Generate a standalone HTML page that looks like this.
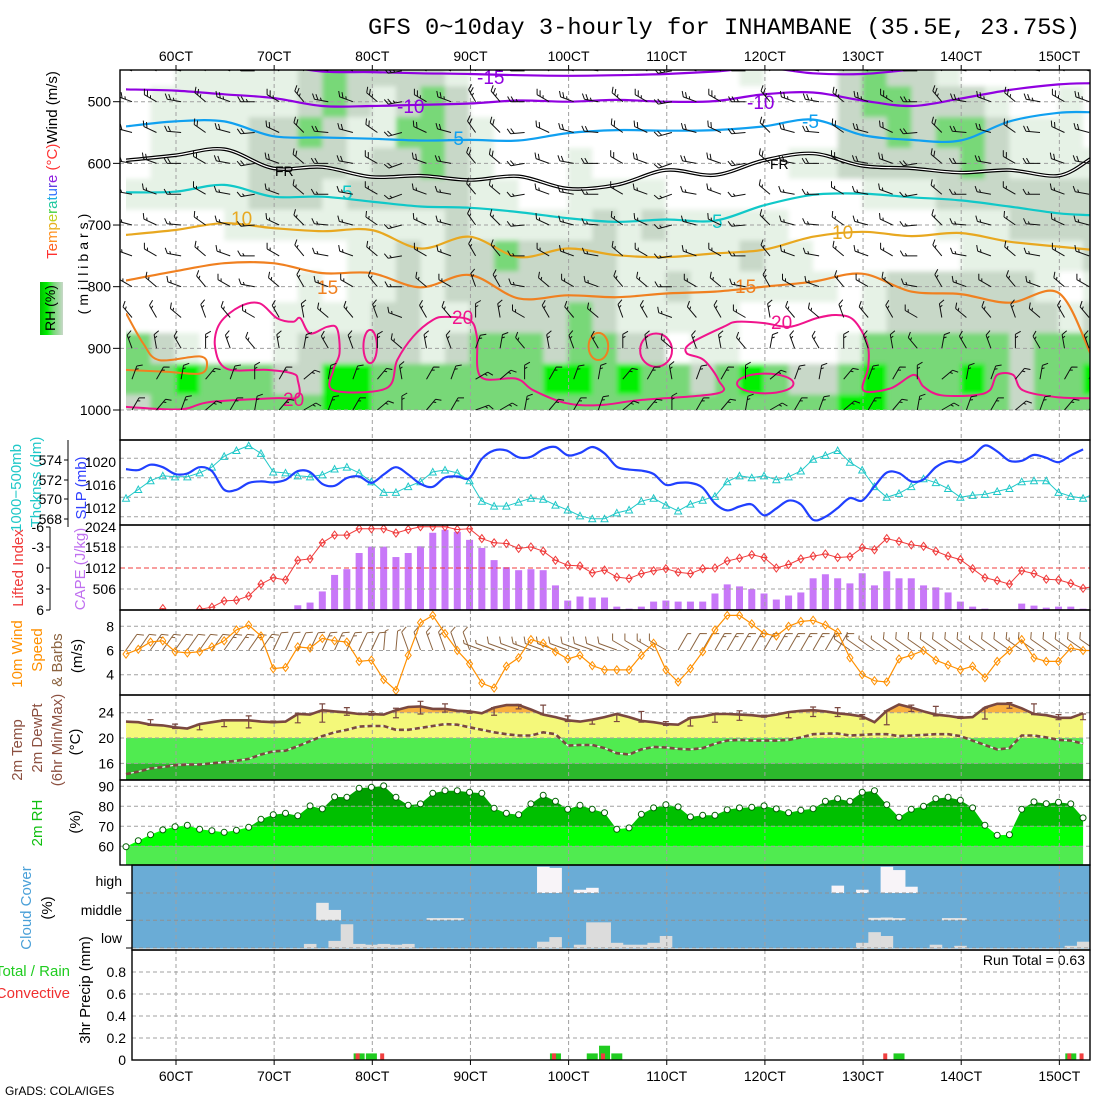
<!DOCTYPE html>
<html><head><meta charset="utf-8"><title>GFS meteogram INHAMBANE</title>
<style>
html,body{margin:0;padding:0;background:#fff;}
svg{display:block;font-family:"Liberation Sans",sans-serif;}
</style></head><body>
<svg id="chart" width="1100" height="1100" viewBox="0 0 1100 1100" xmlns="http://www.w3.org/2000/svg">
<defs>
<clipPath id="c1"><rect x="120" y="70" width="970" height="370"/></clipPath>
<clipPath id="c1f"><rect x="126" y="70" width="964" height="340"/></clipPath>
<clipPath id="c2"><rect x="120" y="440" width="970" height="85"/></clipPath>
<clipPath id="c3"><rect x="120" y="525" width="970" height="85"/></clipPath>
<clipPath id="c4"><rect x="120" y="610" width="970" height="85"/></clipPath>
<clipPath id="c5"><rect x="120" y="695" width="970" height="85"/></clipPath>
<clipPath id="c6"><rect x="120" y="780" width="970" height="85"/></clipPath>
<clipPath id="c7"><rect x="132" y="865" width="958" height="85"/></clipPath>
<clipPath id="c8"><rect x="132" y="950" width="958" height="110"/></clipPath>
<filter id="blur" x="-5%" y="-5%" width="110%" height="110%"><feGaussianBlur stdDeviation="2.5"/></filter>
<linearGradient id="rhleg" x1="0" x2="1" y1="0" y2="0">
<stop offset="0" stop-color="#00c000"/><stop offset="0.3" stop-color="#00f000"/><stop offset="0.6" stop-color="#78d878"/><stop offset="1" stop-color="#c8d8c8"/>
</linearGradient>
</defs>
<text x="368" y="34" font-family="Liberation Mono, monospace" font-size="23" textLength="712" lengthAdjust="spacingAndGlyphs" fill="#000">GFS 0~10day 3-hourly for INHAMBANE (35.5E, 23.75S)</text>
<text x="5" y="1095" font-size="12" fill="#000">GrADS: COLA/IGES</text>

<text transform="rotate(-90 57 165)" x="57" y="165" text-anchor="middle" font-size="15"><tspan fill="#ff3030">T</tspan><tspan fill="#ff6020">e</tspan><tspan fill="#ff9020">m</tspan><tspan fill="#e8b020">p</tspan><tspan fill="#c0d020">e</tspan><tspan fill="#40d040">r</tspan><tspan fill="#20c8a0">a</tspan><tspan fill="#20b0e0">t</tspan><tspan fill="#3070ff">u</tspan><tspan fill="#6040e0">r</tspan><tspan fill="#9020e0">e</tspan><tspan fill="#ff3030"> (°C)</tspan><tspan fill="#000">Wind (m/s)</tspan></text>
<rect x="40" y="282" width="23" height="53" fill="url(#rhleg)"/>
<text transform="rotate(-90 55 308)" x="55" y="308" text-anchor="middle" font-size="14" fill="#000">RH (%)</text>
<text transform="rotate(-90 88 262)" x="88" y="262" text-anchor="middle" font-size="14" letter-spacing="4" fill="#000">(millibars)</text>

<text transform="rotate(-90 21 488)" x="21" y="488" text-anchor="middle" font-size="15" fill="#20c8c8">1000−500mb</text>
<text transform="rotate(-90 41 482)" x="41" y="482" text-anchor="middle" font-size="15" fill="#20c8c8">Thcknss (dm)</text>
<text transform="rotate(-90 86 488)" x="86" y="488" text-anchor="middle" font-size="15" fill="#3040ff">SLP (mb)</text>
<text transform="rotate(-90 23 568)" x="23" y="568" text-anchor="middle" font-size="15" fill="#f03c3c">Lifted Index</text>
<text transform="rotate(-90 85 569)" x="85" y="569" text-anchor="middle" font-size="15" fill="#c070f0">CAPE (J/kg)</text>
<text transform="rotate(-90 22 654)" x="22" y="654" text-anchor="middle" font-size="15" fill="#ff9000">10m Wind</text>
<text transform="rotate(-90 42 650)" x="42" y="650" text-anchor="middle" font-size="15" fill="#ff9000">Speed</text>
<text transform="rotate(-90 62 660)" x="62" y="660" text-anchor="middle" font-size="15" fill="#8c6440">&amp; Barbs</text>
<text transform="rotate(-90 82 656)" x="82" y="656" text-anchor="middle" font-size="15" fill="#000">(m/s)</text>
<text transform="rotate(-90 22 750)" x="22" y="750" text-anchor="middle" font-size="15" fill="#8c5040">2m Temp</text>
<text transform="rotate(-90 42 738)" x="42" y="738" text-anchor="middle" font-size="15" fill="#8c5040">2m DewPt</text>
<text transform="rotate(-90 62 740)" x="62" y="740" text-anchor="middle" font-size="15" fill="#8c5040">(6hr Min/Max)</text>
<text transform="rotate(-90 80 742)" x="80" y="742" text-anchor="middle" font-size="15" fill="#000">(°C)</text>
<text transform="rotate(-90 42 823)" x="42" y="823" text-anchor="middle" font-size="15" fill="#10c010">2m RH</text>
<text transform="rotate(-90 80 822)" x="80" y="822" text-anchor="middle" font-size="15" fill="#000">(%)</text>
<text transform="rotate(-90 31 908)" x="31" y="908" text-anchor="middle" font-size="15" fill="#4aa0d8">Cloud Cover</text>
<text transform="rotate(-90 52 908)" x="52" y="908" text-anchor="middle" font-size="15" fill="#000">(%)</text>
<text transform="rotate(-90 90 990)" x="90" y="990" text-anchor="middle" font-size="15" fill="#000">3hr Precip (mm)</text>
<text x="70" y="976" text-anchor="end" font-size="15" fill="#20cc20">Total / Rain</text>
<text x="70" y="998" text-anchor="end" font-size="15" fill="#f03030">Convective</text>
<text x="1085" y="965" text-anchor="end" font-size="14" fill="#000">Run Total = 0.63</text>
<text x="122" y="886" text-anchor="end" font-size="14" fill="#000">high</text>
<text x="122" y="915" text-anchor="end" font-size="14" fill="#000">middle</text>
<text x="122" y="943" text-anchor="end" font-size="14" fill="#000">low</text>
</svg>
<script>
const hourTicks = [60,70,80,90,100,110,120,130,140,150];
const tickLabels = ['60CT','70CT','80CT','90CT','100CT','110CT','120CT','130CT','140CT','150CT'];

const thick = [569.9,570.8,571.7,572.2,572.1,572.1,572.5,573.1,574.2,574.8,575.3,574.5,572.6,572.5,572.2,572.1,572.3,572.9,573.1,572.5,571.6,570.5,570.5,571.1,571.6,572.6,572.8,572.5,571.7,569.6,569.1,569.1,569.5,569.9,569.8,569.2,568.7,568.1,567.8,567.8,568.4,568.7,569.6,569.9,569.2,568.6,569.3,569.7,570.1,571.6,572.2,572.0,572.2,571.8,572.1,572.7,573.9,574.3,574.8,573.6,572.8,571.1,570.0,570.4,571.1,571.9,571.5,570.9,570.0,570.2,570.3,570.6,570.9,571.6,571.7,571.7,570.5,570.1,569.9,570.4];
const slp = [1017.8,1017.6,1018.7,1018.2,1016.8,1016.9,1018.2,1017.4,1013.6,1013.6,1015.0,1015.3,1015.1,1015.6,1017.4,1017.2,1014.8,1014.4,1016.0,1016.3,1015.0,1016.7,1018.2,1016.7,1014.8,1014.2,1016.1,1016.3,1016.0,1019.9,1021.6,1021.6,1020.2,1020.3,1021.8,1022.3,1020.6,1021.1,1022.3,1021.0,1018.3,1017.7,1017.5,1016.8,1014.6,1015.0,1015.0,1014.0,1010.8,1009.4,1010.2,1010.6,1008.4,1009.8,1011.4,1010.6,1007.5,1008.1,1009.9,1011.9,1011.4,1014.3,1017.1,1017.0,1015.3,1015.7,1018.2,1019.4,1019.2,1020.4,1022.6,1021.4,1019.5,1019.5,1020.7,1020.1,1019.2,1020.6,1021.8];
const cape = [0,0,0,0,0,0,0,0,0,0,0,0,0,0,112,177,442,835,972,1357,1510,1510,1261,1357,1518,1839,1911,1863,1670,1478,1188,1020,948,972,948,586,225,321,297,297,80,32,80,200,225,200,200,200,393,610,562,498,393,249,345,418,755,851,755,634,875,586,923,755,755,586,538,418,200,80,32,0,0,152,104,56,80,80,32];
const liftedIndex = [8,8,8,5.8,8,8,5.9,5.6,4.7,4.6,4.0,2.3,1.4,1.7,-1.1,-1.3,-3.6,-4.7,-4.7,-5.6,-5.6,-5.6,-5.0,-5.5,-5.9,-5.9,-5.9,-5.5,-5.6,-4.2,-3.6,-3.5,-2.8,-3.0,-2.4,-1.1,-0.4,-0.3,0.7,0.3,1.3,1.5,0.8,0.4,0.1,0.6,0.8,0.1,0,-1.0,-1.4,-1.9,-1.5,0,-0.5,-1.3,-1.7,-2.0,-1.5,-1.6,-2.9,-2.6,-4.2,-3.8,-3.3,-3.1,-2.4,-1.7,-1.2,0.1,1.4,1.8,2.3,0.4,0.8,1.6,1.7,2.2,2.9,2.6];
const windSpeed = [5.7,6.1,6.7,6.8,5.9,5.8,5.9,6.3,6.8,7.7,8.1,7.2,4.5,4.6,6.3,6.2,7.0,6.8,6.7,5.1,5.2,3.6,2.7,5.6,8.3,8.9,7.4,6.0,4.9,3.3,2.9,4.7,5.4,6.9,6.6,5.9,5.3,5.6,4.75,4.4,4.4,4.4,5.6,6.6,4.4,3.4,4.5,5.9,7.7,8.9,8.9,8.2,7.4,7.2,8.0,8.4,8.5,8.1,7.5,5.4,4.0,3.5,3.4,5.3,5.6,6.0,5.2,4.8,4.4,4.7,3.75,5.1,6.0,6.9,5.4,5.1,5.1,6.2,6.0,6.0];
const windDir = [35,35,35,35,35,35,35,35,35,35,35,35,25,25,25,25,25,25,25,25,25,5,5,340,340,340,340,340,340,290,290,290,290,290,290,290,290,290,290,290,290,300,300,300,300,30,30,30,30,30,30,30,30,30,30,30,30,30,30,305,305,305,305,305,305,305,305,305,305,305,305,305,305,305,305,305,305,305,305,305];
const temp2m = [22.6,22.5,22.1,22.0,21.7,21.5,22.2,22.5,22.8,22.8,22.8,22.6,22.5,22.6,23.8,23.7,24.4,24.2,24.05,23.8,23.8,23.7,24.4,24.9,25.0,24.6,24.6,24.3,24.2,23.9,24.8,25.2,25.2,24.5,23.7,23.3,22.8,22.6,22.9,23.3,23.8,23.3,22.7,22.5,22.2,22.1,23.2,23.4,23.8,23.8,23.7,23.6,23.4,23.7,24.1,24.3,24.4,24.2,23.9,23.7,23.4,22.5,24.3,25.3,24.8,24.2,23.7,23.5,23.2,23.3,24.8,25.4,25.4,24.7,23.8,23.6,23.2,23.2,23.9];
const dewpt2m = [14.3,14.7,15.2,15.4,15.7,15.8,15.8,16.0,16.2,16.4,16.7,17.4,17.9,18.0,18.7,19.5,20.3,20.9,21.3,21.8,21.9,21.9,21.3,21.3,21.6,21.9,22.2,22.1,21.7,21.3,20.9,20.6,20.4,20.4,20.9,20.6,18.8,18.9,18.9,18.4,17.6,17.4,18.2,18.6,18.5,18.3,18.2,18.4,19.1,19.6,19.7,19.6,19.6,19.6,19.7,20.1,20.6,20.7,20.7,20.4,20.5,20.6,20.6,20.3,20.4,20.5,20.6,20.6,20.3,19.6,18.9,18.2,18.4,20.4,20.4,20.1,19.7,19.6,19.1];
const tmax6 = [22.9,22.2,22.2,22.9,23.5,22.7,23.9,25.4,24.8,24.2,24.7,25.8,25.4,24.2,24.8,25.3,25.2,23.5,22.9,23.8,24.2,22.6,23.2,23.9,24.3,23.6,24.1,24.9,24.8,23.7,24.3,25.2,25.0,23.4,24.7,25.6,25.4,23.7,23.8];
const tmin6 = [22.0,21.5,21.3,21.8,21.6,22.4,22.4,22.5,23.6,23.6,23.2,23.8,24.1,23.9,23.6,24.6,23.7,22.6,22.2,22.6,22.5,22.0,21.9,22.5,22.8,23.3,23.2,23.4,23.4,23.0,22.1,24.2,23.5,23.1,23.0,24.7,23.7,22.9,22.9];
const rh2m = [59.8,62.8,65.8,68.2,69.8,70.5,68.5,67.8,67,68,69.5,73.5,75.8,76.5,75.3,80.2,78.7,84.7,84.5,89,89.5,90.2,84.5,80.5,81.2,86.5,87.8,87.8,87,86.5,79,76.5,75.8,81.2,85.5,82.5,78.5,80.5,78.5,76.8,68.5,69.2,76,79.2,80.8,79.7,74.7,75.5,75.5,78.3,79.2,79.5,80.2,78.7,76.8,78,78.8,82.5,83.8,82.5,87,87.8,80.8,74.5,78.5,80,83.8,84.5,83,79.2,70.5,65.5,65.8,78.5,82.2,81.3,82,81.2,74.2];
const cloudHigh = [0,0,0,0,0,0,0,0,0,0,0,0,0,0,0,0,0,0,0,0,0,0,0,0,0,0,0,0,0,0,0,0,0,0,96,92,0,12,19,0,0,0,0,0,0,0,0,0,0,0,0,0,0,0,0,0,0,0,27,0,12,0,96,84,23,0,0,0,0,0,0,0,0,0,0,0,0,0,0];
const cloudMid = [0,0,0,0,0,0,0,0,0,0,0,0,0,0,0,0,64,38,0,0,0,0,0,0,0,8,8,8,0,0,0,0,0,0,0,0,0,0,0,0,0,0,0,0,0,0,0,0,0,0,0,0,0,0,0,0,0,0,0,0,0,9,10,8,0,0,0,8,8,0,0,0,0,0,0,0,0,0,0];
const cloudLow = [0,0,0,0,0,0,0,0,0,0,0,0,0,0,0,15,0,26,87,15,12,15,12,15,0,0,0,0,0,0,0,0,0,0,23,40,0,12,94,94,19,12,12,19,44,0,0,0,0,0,0,0,0,0,0,0,0,0,0,0,19,58,44,0,0,0,12,0,8,0,0,0,0,0,0,0,0,8,23];
const precipTotal = [0,0,0,0,0,0,0,0,0,0,0,0,0,0,0,0,0,0,0,0.06,0.06,0,0,0,0,0,0,0,0,0,0,0,0,0,0,0.06,0,0,0.06,0.13,0.06,0,0,0,0,0,0,0,0,0,0,0,0,0,0,0,0,0,0,0,0,0,0,0.06,0,0,0,0,0,0,0,0,0,0,0,0,0,0.06,0];
const precipConv = [0,0,0,0,0,0,0,0,0,0,0,0,0,0,0,0,0,0,0,0.06,0,0.06,0,0,0,0,0,0,0,0,0,0,0,0,0,0.06,0,0,0,0.06,0,0,0,0,0,0,0,0,0,0,0,0,0,0,0,0,0,0,0,0,0,0,0.06,0,0,0,0,0,0,0,0,0,0,0,0,0,0,0.06,0.06];

const rhLevels = [450,500,550,600,650,700,750,800,850,900,950,1000];
const rhRows = [
"0011111232222100000000000100023221000000",
"0111111232123200000000000000023322210010",
"0111122321133210000000000000022323321110",
"0111122221223210001000000001122222321111",
"1111122212222211001111000000001112222222",
"0000111111111211111212111110000001112222",
"0000000001121223222211111211000000111112",
"0000000101121222222211211111101222222101",
"0000001111221122223211111000001222222212",
"3210001222221233323322011000013333332333",
"3343332244333333344343323432234333432334",
"2333333344333333333333333333344333332333"];
const isoIdx = [0,4,8,12,16,20,24,28,32,36,40,44,48,52,56,60,64,68,72,76,78.6];
const isoM15 = [440,440,440,440,451,452,454,455,457,458,457,455,451,445,454,455,448,440,440,440,440];
const isoM10 = [480,482,488,494,507,507,505,503,498,500,497,500,499,488,485,498,507,495,481,472,470];
const isoM5 = [540,532,532,556,558,560,563,562,563,551,546,547,546,540,529,554,562,563,532,518,517];
const isoFR = [595,587,577,608,606,622,620,627,621,641,635,611,619,595,584,604,608,615,611,620,593];
const iso5 = [647,646,635,654,654,662,670,672,679,689,695,691,693,668,651,649,655,660,670,681,684];
const iso10 = [716,708,697,705,710,708,738,719,752,738,749,752,746,740,719,711,718,713,727,735,740];
const iso15 = [790,775,762,762,778,778,801,781,819,814,817,811,808,800,792,779,808,812,826,810,908];
const iso15b = [[0,843],[1.4,892],[2.7,919],[6.0,913],[6.6,927],[6.0,941],[3.3,938],[0,935]];
const iso20 = [[0,995],[4.4,999],[6.85,987],[12.0,981],[14.0,979],[14.0,952],[13.6,941],[11.5,935],[8.2,933],[7.25,897],[7.66,859],[9.3,832],[10.9,827],[12.3,851],[13.6,857],[14.2,851],[15.0,876],[16.4,865],[17.2,868],[17.4,908],[16.9,935],[16.9,968],[21.2,965],[22.1,919],[23.4,881],[25.0,854],[26.1,849],[28.0,854],[28.6,881],[28.9,946],[31.8,949],[33.2,968],[35.9,989],[38.6,992],[41.9,984],[48.2,973],[48.3,952],[47.1,919],[45.7,908],[46.0,892],[48.7,865],[49.8,857],[52.0,859],[54.1,865],[56.3,851],[57.9,846],[59.3,854],[60.4,892],[60.5,930],[60.1,968],[62.3,965],[64.2,943],[65.0,962],[66.4,976],[69.1,976],[70.4,968],[71.0,943],[72.3,943],[73.1,968],[75.8,979],[78.6,981]];
const iso20Loops = [[19.9,897,0.55,27],[43.2,903,1.3,27],[52.1,957,2.3,16]];
const iso15Loops = [[38.5,897,0.8,22]];
const barbLevels = [450,500,550,600,650,700,750,800,850,900,950,1000];
const barbDirLevel = [290,290,285,280,280,285,290,300,320,340,20,30];
const barbSpdLevel = [25,25,20,20,15,15,15,15,15,15,15,15];
const barbColAdj = [0,10,-10,20,0,-20,10,30,-10,0,20,-30,10,0,40,30,-20,10,0,-10,20,10,-30,0,10,-20,30,0,-10,20,0,10,-20,30,-10,0,20,-10,10,0];

const NS='http://www.w3.org/2000/svg';
const svg=document.getElementById('chart');
function mk(t,a,p){const e=document.createElementNS(NS,t);for(const k in a)e.setAttribute(k,a[k]);(p||svg).appendChild(e);return e;}
function nm(e,n){
  
  
  return e;
}
function grp(n,clip){const g=mk('g',clip?{'clip-path':'url(#'+clip+')'}:{});nm(g,n);return g;}
const X0=126, DX=12.27;
function xi(i){return X0+i*DX;}
function xh(h){return 176+(h-60)*9.815;}
function yP(p){return 101.7+(p-500)*0.6166;}
function yTh(v){return 458.3+(574-v)*9.75;}
function ySlp(v){return 458.3+(1020-v)*4.917;}
function yCape(v){return 610-v*85/2024;}
function yLi(v){return 568+v*7;}
function yWs(v){return 626.3+(8-v)*12.1;}
function yT(v){return 712.7+(24-v)*6.33;}
function yRh(v){return 786.3+(90-v)*2.0;}
function yPr(v){return 1060-v*110;}
function pl(pts){return pts.map((p,k)=>(k?'L':'M')+p[0].toFixed(1)+' '+p[1].toFixed(1)).join('');}
function smooth(pts){
  let d='M'+pts[0][0].toFixed(1)+' '+pts[0][1].toFixed(1);
  for(let i=0;i<pts.length-1;i++){
    const p0=pts[i-1]||pts[i],p1=pts[i],p2=pts[i+1],p3=pts[i+2]||p2;
    const c1x=p1[0]+(p2[0]-p0[0])/6,c1y=p1[1]+(p2[1]-p0[1])/6,c2x=p2[0]-(p3[0]-p1[0])/6,c2y=p2[1]-(p3[1]-p1[1])/6;
    d+='C'+c1x.toFixed(1)+' '+c1y.toFixed(1)+' '+c2x.toFixed(1)+' '+c2y.toFixed(1)+' '+p2[0].toFixed(1)+' '+p2[1].toFixed(1);
  }
  return d;
}
function txt(x,y,s,a,p){const e=mk('text',Object.assign({x:x,y:y},a||{}),p);e.textContent=s;return e;}
function hgrid(g,y,x1,col,dash){const e=mk('line',{x1:x1,x2:1090,y1:y,y2:y,stroke:col||'#a0a0a0','stroke-width':1,'stroke-dasharray':dash||'4,3'},g);return e;}
function barb(g,x,y,dir,kt,L,col,fl){
  const r=dir*Math.PI/180,ux=Math.sin(r),uy=-Math.cos(r);
  const tx=x+ux*L,ty=y+uy*L,px=-uy,py=ux;
  let d='M'+x.toFixed(1)+' '+y.toFixed(1)+'L'+tx.toFixed(1)+' '+ty.toFixed(1);
  let full=Math.floor(kt/10),half=Math.round((kt-full*10)/5);
  if(half>=2){full++;half=0;}
  let pos=0;
  for(let k=0;k<full;k++){const sx=tx-ux*pos*3.5,sy=ty-uy*pos*3.5;d+='M'+sx.toFixed(1)+' '+sy.toFixed(1)+'L'+(sx+(px*0.87+ux*0.5)*fl).toFixed(1)+' '+(sy+(py*0.87+uy*0.5)*fl).toFixed(1);pos++;}
  if(half){const sx=tx-ux*pos*3.5,sy=ty-uy*pos*3.5;d+='M'+sx.toFixed(1)+' '+sy.toFixed(1)+'L'+(sx+(px*0.87+ux*0.5)*fl*0.5).toFixed(1)+' '+(sy+(py*0.87+uy*0.5)*fl*0.5).toFixed(1);}
  return mk('path',{d:d,stroke:col,'stroke-width':1,fill:'none'},g);
}
function vgrid(g,y1,y2){hourTicks.forEach(h=>{const e=mk('line',{x1:xh(h),x2:xh(h),y1:y1,y2:y2,stroke:'#a0a0a0','stroke-width':1,'stroke-dasharray':'4,3'},g);nm(e,'vertical-gridline');});}

const rhColors=['#ffffff','#e6f2e6','#c8d8c8','#78d878','#00f000'];
const g1f=grp('upper-rh-shading','c1f');
const g1b=mk('g',{filter:'url(#blur)'},g1f);nm(g1b,'rh-shading-blur');
rhRows.forEach((row,r)=>{
  const p=rhLevels[r];
  let yt=yP(p-25),yb=yP(p+25);
  if(r===0)yt-=25; if(r===rhRows.length-1)yb+=25;
  for(let c=0;c<row.length;c++){
    const v=parseInt(row.charAt(c))||0;
    let x1=xi(2*c),x2=xi(2*c+2);
    if(c===0)x1-=25; if(c===row.length-1)x2+=25;
    const e=mk('rect',{x:x1.toFixed(1),y:yt.toFixed(1),width:(x2-x1+0.6).toFixed(1),height:(yb-yt+0.6).toFixed(1),fill:rhColors[v]},g1b);
    nm(e,'rh-cell');
  }
});
const g1g=grp('upper-grid','c1');
vgrid(g1g,70,440);
[500,600,700,800,900,1000].forEach(p=>{const e=hgrid(g1g,yP(p),120);nm(e,'pressure-gridline');});
const g1l=grp('isotherms','c1f');
function isoLine(vals,col,w,n){const pts=vals.map((p,k)=>[xi(isoIdx[k]),yP(p)]);const e=mk('path',{d:smooth(pts),stroke:col,'stroke-width':w,fill:'none'},g1l);nm(e,n);return pts;}
isoLine(isoM15,'#9000e0',2.2,'isotherm-minus15');
isoLine(isoM10,'#9000e0',2.2,'isotherm-minus10');
isoLine(isoM5,'#10a0f0',2.2,'isotherm-minus5');
const frPts=isoFR.map((p,k)=>[xi(isoIdx[k]),yP(p)]);
let fr1=mk('path',{d:smooth(frPts),stroke:'#000','stroke-width':3.6,fill:'none'},g1l);nm(fr1,'freezing-level-outer');
let fr2=mk('path',{d:smooth(frPts),stroke:'#fff','stroke-width':1.2,fill:'none'},g1l);nm(fr2,'freezing-level-inner');
isoLine(iso5,'#10c8c8',2.2,'isotherm-5');
isoLine(iso10,'#e8a820',2.2,'isotherm-10');
isoLine(iso15,'#f08020',2.2,'isotherm-15');
let i15b=mk('path',{d:smooth(iso15b.map(q=>[xi(q[0]),yP(q[1])])),stroke:'#f08020','stroke-width':2,fill:'none'},g1l);nm(i15b,'isotherm-15-loop');
iso15Loops.forEach(q=>{const e=mk('ellipse',{cx:xi(q[0]),cy:yP(q[1]),rx:q[2]*DX,ry:q[3]*0.6166,stroke:'#f08020','stroke-width':2,fill:'none'},g1l);nm(e,'isotherm-15-loop');});
let i20=mk('path',{d:smooth(iso20.map(q=>[xi(q[0]),yP(q[1])])),stroke:'#f0148c','stroke-width':2,fill:'none'},g1l);nm(i20,'isotherm-20');
iso20Loops.forEach(q=>{const e=mk('ellipse',{cx:xi(q[0]),cy:yP(q[1]),rx:q[2]*DX,ry:q[3]*0.6166,stroke:'#f0148c','stroke-width':2,fill:'none'},g1l);nm(e,'isotherm-20-loop');});
const isoLabels=[['-15',477,84,'#9000e0'],['-10',397,113,'#9000e0'],['-5',447,145,'#10a0f0'],['FR',275,176,'#000'],['5',342,199,'#10c8c8'],['10',231,225,'#e8a820'],['15',317,294,'#f08020'],['20',283,406,'#f0148c'],['20',452,324,'#f0148c'],['-10',747,109,'#9000e0'],['-5',802,128,'#10a0f0'],['FR',770,169,'#000'],['5',712,228,'#10c8c8'],['10',832,239,'#e8a820'],['15',735,293,'#f08020'],['20',771,329,'#f0148c']];
isoLabels.forEach(l=>{const e=txt(l[1],l[2],l[0],{fill:l[3],'font-size':l[0]==='FR'?14:19},g1l);nm(e,'isotherm-label');});
const g1w=grp('upper-wind-barbs','c1');
barbLevels.forEach((p,r)=>{
  for(let c=0;c<40;c++){
    const e=barb(g1w,xi(2*c)+6,yP(p),barbDirLevel[r]+barbColAdj[c],barbSpdLevel[r],14,'#101010',6);
    nm(e,'upper-wind-barb');
  }
});
const g1a=grp('pressure-axis');
[500,600,700,800,900,1000].forEach(p=>{const t=txt(111,yP(p)+5,String(p),{'text-anchor':'end','font-size':14},g1a);nm(t,'pressure-tick-label');const k=mk('line',{x1:113,x2:120,y1:yP(p),y2:yP(p),stroke:'#000'},g1a);nm(k,'pressure-tick');});

const g2=grp('slp-thickness-panel','c2');
vgrid(g2,440,525);
[574,572,570,568].forEach(v=>{const e=hgrid(g2,yTh(v),120);nm(e,'thickness-gridline');});
let thp=mk('path',{d:pl(thick.map((v,i)=>[xi(i),yTh(v)])),stroke:'#20c8c8','stroke-width':1,fill:'none'},g2);nm(thp,'thickness-line');
thick.forEach((v,i)=>{const x=xi(i),y=yTh(v);const e=mk('path',{d:`M${x-3.5} ${y+3}L${x+3.5} ${y+3}L${x} ${y-3.5}Z`,stroke:'#20c8c8','stroke-width':1,fill:'none'},g2);nm(e,'thickness-marker');});
let slpP=mk('path',{d:smooth(slp.map((v,i)=>[xi(i),ySlp(v)])),stroke:'#2040ff','stroke-width':2.2,fill:'none'},g2);nm(slpP,'slp-line');
const g2a=grp('slp-axes');
[[574,460],[572,480],[570,499],[568,519]].forEach(q=>{const t=txt(62,q[1]+5,String(q[0]),{'text-anchor':'end','font-size':14},g2a);nm(t,'thickness-tick-label');const k=mk('line',{x1:64,x2:68,y1:q[1],y2:q[1],stroke:'#000'},g2a);nm(k,'thickness-tick');});
let ax2=mk('line',{x1:68,x2:68,y1:440,y2:527,stroke:'#000'},g2a);nm(ax2,'thickness-axis');
[['1020',462],['1016',485],['1012',508]].forEach(q=>{const t=txt(116,q[1]+5,q[0],{'text-anchor':'end','font-size':14},g2a);nm(t,'slp-tick-label');});

const g3=grp('cape-li-panel','c3');
cape.forEach((v,i)=>{if(v<=0)return;const y=yCape(v);const e=mk('rect',{x:xi(i)-3.5,y:y,width:7,height:610-y,fill:'#c878f8'},g3);nm(e,'cape-bar');});
vgrid(g3,525,610);
[-3,3].forEach(v=>{const e=hgrid(g3,yLi(v),120);nm(e,'li-gridline');});
let zl=hgrid(g3,yLi(0),120,'#f03c3c','5,3');nm(zl,'li-zero-line');
let lip=mk('path',{d:pl(liftedIndex.map((v,i)=>[xi(i),yLi(v)])),stroke:'#f03c3c','stroke-width':1,fill:'none'},g3);nm(lip,'lifted-index-line');
liftedIndex.forEach((v,i)=>{const x=xi(i),y=yLi(v);const e=mk('path',{d:`M${x} ${y-4}L${x+3} ${y}L${x} ${y+4}L${x-3} ${y}Z M${x-3} ${y}L${x+3} ${y}`,stroke:'#f03c3c','stroke-width':1,fill:'none'},g3);nm(e,'li-marker');});
const g3a=grp('cape-li-axes');
[['-6',527],['-3',547],['0',568],['3',589],['6',610]].forEach(q=>{const t=txt(44,q[1]+5,q[0],{'text-anchor':'end','font-size':14},g3a);nm(t,'li-tick-label');const k=mk('line',{x1:46,x2:50,y1:q[1],y2:q[1],stroke:'#000'},g3a);nm(k,'li-tick');});
let ax3=mk('line',{x1:50,x2:50,y1:527,y2:610,stroke:'#000'},g3a);nm(ax3,'li-axis');
[['2024',527],['1518',547],['1012',568],['506',589]].forEach(q=>{const t=txt(116,q[1]+5,q[0],{'text-anchor':'end','font-size':14},g3a);nm(t,'cape-tick-label');});

const g4=grp('wind10m-panel','c4');
vgrid(g4,610,695);
[8,6,4].forEach(v=>{const e=hgrid(g4,yWs(v),120);nm(e,'wind-gridline');});
windSpeed.forEach((v,i)=>{const e=barb(g4,xi(i),650,windDir[i],v*1.944,19,'#8c6440',7);nm(e,'wind10m-barb');});
let wsp=mk('path',{d:pl(windSpeed.map((v,i)=>[xi(i),yWs(v)])),stroke:'#ff9000','stroke-width':1.2,fill:'none'},g4);nm(wsp,'wind-speed-line');
windSpeed.forEach((v,i)=>{const x=xi(i),y=yWs(v);const e=mk('path',{d:`M${x} ${y-4}L${x+3} ${y}L${x} ${y+4}L${x-3} ${y}Z`,stroke:'#ff9000','stroke-width':1,fill:'none'},g4);nm(e,'wind-speed-marker');});
const g4a=grp('wind-axis');
[8,6,4].forEach(v=>{const t=txt(114,yWs(v)+5,String(v),{'text-anchor':'end','font-size':14},g4a);nm(t,'wind-tick-label');});

const defs=svg.querySelector('defs');
const tcp=mk('clipPath',{id:'tclip'},defs);
const tpoly=[[xi(0),780]].concat(temp2m.map((v,i)=>[xi(i),yT(v)])).concat([[xi(temp2m.length-1),780]]);
let tcpp=mk('path',{d:pl(tpoly)+'Z'},tcp);nm(tcpp,'temp-clip-shape');
const g5=grp('temp-panel','c5');
const g5f=mk('g',{'clip-path':'url(#tclip)'},g5);nm(g5f,'temp-fill');
[[30,24,'#f8b040'],[24,20,'#f4f87a'],[20,16,'#50eb50'],[16,10,'#2cb82c']].forEach(b=>{const e=mk('rect',{x:120,y:yT(b[0]),width:970,height:yT(b[1])-yT(b[0]),fill:b[2]},g5f);nm(e,'temp-band');});
vgrid(g5,695,780);
[24,20,16].forEach(v=>{const e=hgrid(g5,yT(v),120);nm(e,'temp-gridline');});
tmax6.forEach((v,k)=>{const i=2+2*k,x=xi(i),y1=yT(v),y2=yT(tmin6[k]);const e=mk('path',{d:`M${x} ${y1}L${x} ${y2}M${x-3} ${y1}L${x+3} ${y1}M${x-3} ${y2}L${x+3} ${y2}`,stroke:'#7a4840','stroke-width':1.2,fill:'none'},g5);nm(e,'temp-minmax-bar');});
let dpw=mk('path',{d:pl(dewpt2m.map((v,i)=>[xi(i),yT(v)])),stroke:'#f0f0f0','stroke-width':1.2,fill:'none'},g5);nm(dpw,'dewpoint-underlay');
let dpp=mk('path',{d:pl(dewpt2m.map((v,i)=>[xi(i),yT(v)])),stroke:'#7a4840','stroke-width':2.6,fill:'none','stroke-dasharray':'5,3'},g5);nm(dpp,'dewpoint-line');
let tp=mk('path',{d:pl(temp2m.map((v,i)=>[xi(i),yT(v)])),stroke:'#7a4840','stroke-width':2.6,fill:'none'},g5);nm(tp,'temperature-line');
const g5a=grp('temp-axis');
[24,20,16].forEach(v=>{const t=txt(114,yT(v)+5,String(v),{'text-anchor':'end','font-size':14},g5a);nm(t,'temp-tick-label');});

const rcp=mk('clipPath',{id:'rclip'},defs);
const rpoly=[[xi(0),865]].concat(rh2m.map((v,i)=>[xi(i),yRh(v)])).concat([[xi(rh2m.length-1),865]]);
let rcpp=mk('path',{d:pl(rpoly)+'Z'},rcp);nm(rcpp,'rh-clip-shape');
const g6=grp('rh-panel','c6');
const g6f=mk('g',{'clip-path':'url(#rclip)'},g6);nm(g6f,'rh-fill');
[[100,80,'#00a000'],[80,70,'#00c000'],[70,60,'#00ff00'],[60,40,'#50eb50']].forEach(b=>{const e=mk('rect',{x:120,y:yRh(b[0]),width:970,height:yRh(b[1])-yRh(b[0]),fill:b[2]},g6f);nm(e,'rh-band');});
vgrid(g6,780,865);
[90,80,70,60].forEach(v=>{const e=hgrid(g6,yRh(v),120);nm(e,'rh-gridline');});
rh2m.forEach((v,i)=>{const e=mk('circle',{cx:xi(i),cy:yRh(v),r:3,fill:'#fff',stroke:'#006000','stroke-width':1},g6);nm(e,'rh-marker');});
const g6a=grp('rh-axis');
[90,80,70,60].forEach(v=>{const t=txt(114,yRh(v)+5,String(v),{'text-anchor':'end','font-size':14},g6a);nm(t,'rh-tick-label');});

const g7=grp('cloud-panel','c7');
let cbg=mk('rect',{x:132,y:865.5,width:958,height:83,fill:'#6aacd6'},g7);nm(cbg,'cloud-background');
function cloudBars(arr,bottom,col,n){arr.forEach((v,i)=>{if(v<=0)return;const h=v/100*27.3;const e=mk('rect',{x:xi(i)-DX/2,y:bottom-h,width:DX+0.3,height:h,fill:col},g7);nm(e,n);});}
cloudBars(cloudHigh,893,'#f8f4f8','cloud-high-bar');
cloudBars(cloudMid,920.3,'#e8e8e8','cloud-middle-bar');
cloudBars(cloudLow,948,'#dcdcdc','cloud-low-bar');
vgrid(g7,865,950);
[893,920.3,948].forEach(y=>{const e=hgrid(g7,y,132,'#909090');nm(e,'cloud-band-line');});
const g7a=grp('cloud-axis');
[893,920.3,948].forEach(y=>{const k=mk('line',{x1:126,x2:132,y1:y,y2:y,stroke:'#000'},g7a);nm(k,'cloud-tick');});

const g8=grp('precip-panel','c8');
vgrid(g8,950,1060);
[0.2,0.4,0.6,0.8].forEach(v=>{const e=hgrid(g8,yPr(v),132);nm(e,'precip-gridline');});
precipTotal.forEach((v,i)=>{if(v<=0)return;const y=yPr(v);const e=mk('rect',{x:xi(i)-5.5,y:y,width:11,height:1060-y,fill:'#20cc20'},g8);nm(e,'precip-total-bar');});
precipConv.forEach((v,i)=>{if(v<=0)return;const y=yPr(v);const e=mk('rect',{x:xi(i)-3.5,y:y,width:4,height:1060-y,fill:'#f04040'},g8);nm(e,'precip-convective-bar');});
const g8a=grp('precip-axis');
[[0.8,'0.8'],[0.6,'0.6'],[0.4,'0.4'],[0.2,'0.2'],[0,'0']].forEach(q=>{const t=txt(126,yPr(q[0])+5,q[1],{'text-anchor':'end','font-size':14},g8a);nm(t,'precip-tick-label');});

const gf=grp('panel-frames');
[[120,70,970,370],[120,440,970,85],[120,525,970,85],[120,610,970,85],[120,695,970,85],[120,780,970,85],[132,865,958,85],[132,950,958,110]].forEach(r=>{const e=mk('rect',{x:r[0],y:r[1],width:r[2],height:r[3],fill:'none',stroke:'#000','stroke-width':1.4},gf);nm(e,'panel-frame');});
const gt=grp('time-axes');
hourTicks.forEach((h,k)=>{
  const x=xh(h);
  const t1=txt(x,61,tickLabels[k],{'text-anchor':'middle','font-size':14},gt);nm(t1,'top-time-label');
  const t2=txt(x,1081,tickLabels[k],{'text-anchor':'middle','font-size':14},gt);nm(t2,'bottom-time-label');
  const k1=mk('line',{x1:x,x2:x,y1:65,y2:70,stroke:'#000'},gt);nm(k1,'top-time-tick');
  const k2=mk('line',{x1:x,x2:x,y1:1060,y2:1065,stroke:'#000'},gt);nm(k2,'bottom-time-tick');
});
</script>
</body></html>
